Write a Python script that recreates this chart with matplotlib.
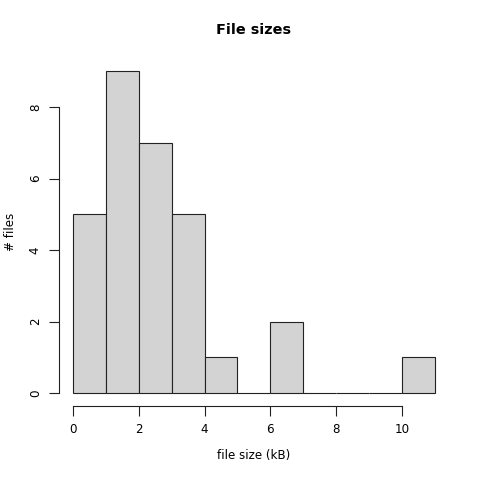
import matplotlib
matplotlib.use("Agg")
import matplotlib.pyplot as plt

bin_edges = [0, 1, 2, 3, 4, 5, 6, 7, 8, 9, 10, 11]
counts = [5, 9, 7, 5, 1, 0, 2, 0, 0, 0, 1]
x_ticks = [0, 2, 4, 6, 8, 10]
y_ticks = [0, 2, 4, 6, 8]

plt.rcParams['font.family'] = ['DejaVu Sans']
fig = plt.figure(figsize=(4.8, 4.8), dpi=100)
ax = fig.add_axes([58.5/480, (480-405.9)/480, (449.4-58.5)/480, (405.9-58.4)/480])

lefts = bin_edges[:-1]
widths = [b - a for a, b in zip(bin_edges[:-1], bin_edges[1:])]
ax.bar(lefts, counts, width=widths, align='edge', color='#d3d3d3',
       edgecolor='#222222', linewidth=0.8)

ax.set_xlim(-0.44, 11.44)
ax.set_ylim(-0.36, 9.36)

for s in ['top', 'right']:
    ax.spines[s].set_visible(False)
ax.spines['left'].set_bounds(0, 8)
ax.spines['bottom'].set_bounds(0, 10)
for s in ['left', 'bottom']:
    ax.spines[s].set_linewidth(0.8)
    ax.spines[s].set_color('#222222')

ax.set_xticks(x_ticks)
ax.set_yticks(y_ticks)
ax.tick_params(axis='both', length=7, width=0.8, color='#222222', labelsize=8.6, pad=5)
for lbl in ax.get_yticklabels():
    lbl.set_rotation(90)
    lbl.set_va('center')

fig.text(0.5 * (58.5 + 449.4) / 480, 1 - 30/480, 'File sizes', ha='center', va='center',
         fontsize=10.4, fontweight='bold')
fig.text(0.5 * (58.5 + 449.4) / 480, 1 - 456/480, 'file size (kB)', ha='center', va='center',
         fontsize=8.6)
fig.text(10/480, 1 - 232/480, '# files', ha='center', va='center', rotation=90,
         fontsize=8.6)

fig.savefig('out.png', dpi=100)
